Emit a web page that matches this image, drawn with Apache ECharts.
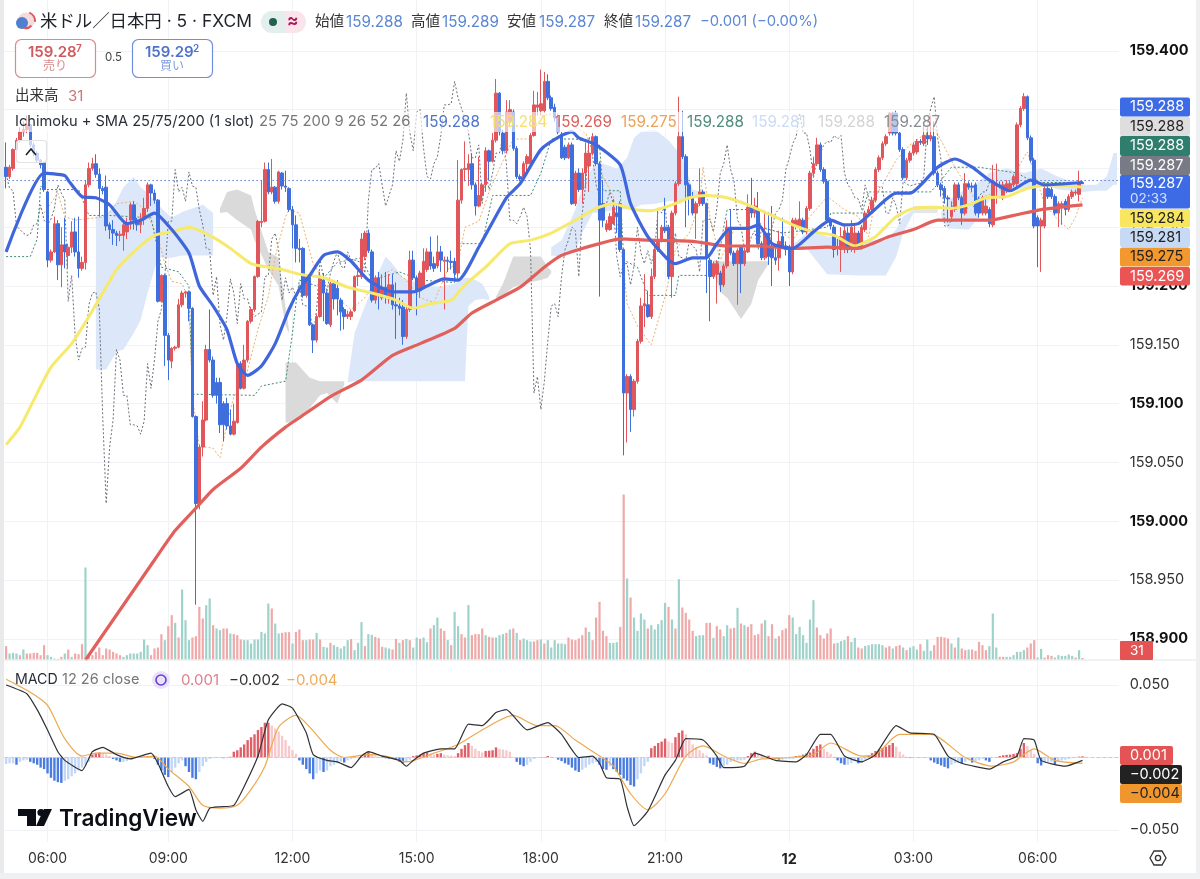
<!DOCTYPE html>
<html><head><meta charset="utf-8"><style>html,body{margin:0;padding:0;background:#eff0f2}#c{width:1200px;height:879px}</style>
<script src="https://cdn.jsdelivr.net/npm/echarts@6/dist/echarts.min.js"></script></head><body><div id="c"></div>
<script>
// prices are stored as thousandths above PRICE_BASE; index 0 is the first 5-minute bar
const PRICE_BASE = 159;
const opens = [
301,293,300,316,324,331,333,337,320,313,307,305,280,222,229,253,218,235,226,233,
246,229,215,220,286,300,304,295,283,284,252,248,245,243,243,246,256,269,256,252,
257,266,286,279,273,187,209,158,136,147,148,184,194,195,181,89,15,63,86,146,
137,118,118,100,100,81,74,84,134,113,137,170,180,208,254,255,299,280,284,272,
296,285,283,265,252,232,232,192,208,167,154,174,205,194,167,202,198,188,180,174,
174,179,208,208,225,245,229,188,207,190,199,189,201,184,183,182,157,180,222,207,
196,200,214,229,219,217,229,221,222,221,221,211,273,299,299,304,286,268,277,286,
315,306,324,364,330,315,340,348,317,293,293,304,304,328,352,349,349,374,360,352,
343,329,318,309,320,270,296,282,296,302,313,327,304,270,248,248,253,262,270,231,
109,123,95,119,153,183,184,174,208,231,239,250,250,208,262,287,327,310,286,276,
262,270,280,270,222,208,210,211,201,217,250,228,219,233,219,229,267,262,265,236,
224,245,232,224,224,242,234,233,212,251,251,256,246,266,296,304,320,299,289,256,
250,233,231,231,245,231,231,245,233,248,262,265,273,299,309,321,330,347,347,330,
316,292,307,313,314,323,321,328,325,327,296,286,283,275,259,265,286,275,262,287,
285,286,274,262,262,265,252,285,286,275,281,283,286,287,337,351,361,326,307,258,
251,251,283,282,276,262,268,272,265,276,279,278,288];
const closes = [
293,301,316,324,331,333,337,320,313,307,303,282,222,229,253,218,235,229,233,246,
229,215,220,286,300,304,295,283,281,251,248,245,243,244,252,253,269,256,252,257,
266,286,279,273,187,209,158,137,147,148,184,194,195,181,89,15,63,86,146,137,
107,107,82,82,81,74,85,134,113,137,170,180,208,255,255,299,280,284,272,297,
285,284,265,252,232,231,192,208,167,154,174,206,194,168,202,189,189,178,174,176,
178,208,209,240,245,230,188,207,194,199,191,201,184,183,181,157,180,222,207,195,
211,221,229,217,215,229,222,222,221,220,211,273,299,300,304,286,268,277,286,315,
306,324,364,331,315,348,350,317,293,291,304,310,328,354,354,355,374,360,351,343,
331,309,309,320,270,296,282,296,313,313,327,304,256,256,253,259,267,259,231,109,
123,95,119,153,183,185,174,208,231,239,250,247,208,262,287,327,310,286,276,262,
270,280,270,225,208,219,219,201,217,250,228,219,230,219,230,267,262,268,236,224,
245,225,224,222,238,234,231,212,256,256,257,246,266,296,304,320,299,289,256,251,
231,232,242,247,231,250,245,233,250,262,265,273,299,309,321,327,347,330,330,316,
292,307,313,320,323,322,328,325,328,296,286,282,275,274,265,286,275,262,287,284,
284,262,262,275,268,253,289,287,285,286,287,287,293,337,351,361,326,307,251,251,
256,283,276,276,262,270,270,265,276,280,280,288,287];
const highs = [
322,303,317,326,335,340,345,338,322,315,308,306,281,231,259,256,250,258,236,255,
258,259,225,290,305,309,312,300,285,294,254,256,247,247,255,258,271,272,258,262,
275,288,287,282,274,210,210,160,148,149,189,196,196,196,182,90,65,102,150,180,
140,122,122,102,105,95,100,136,136,150,171,182,209,256,290,305,305,308,285,298,
297,298,284,268,260,240,233,210,210,168,176,212,211,196,205,205,205,190,182,179,
180,209,213,245,247,248,231,209,212,210,212,210,210,203,190,188,182,230,230,209,
213,232,232,242,225,243,234,225,225,230,224,307,300,323,312,313,288,310,288,318,
316,330,376,365,333,358,358,350,319,295,306,312,330,366,365,384,382,380,362,355,
346,331,320,322,322,298,300,300,322,322,330,328,306,290,256,262,274,270,272,232,
125,125,121,155,190,210,196,215,240,266,252,275,252,264,289,361,349,312,288,280,
272,300,282,271,224,221,222,213,219,256,265,230,232,235,232,278,292,275,280,238,
264,263,268,232,247,258,238,235,258,258,272,258,268,298,310,326,322,301,291,258,
252,240,250,252,250,256,252,247,252,264,268,276,301,311,323,329,348,348,349,331,
318,309,315,322,325,325,338,335,345,340,298,288,285,277,272,288,288,277,296,289,
288,288,276,277,275,267,303,304,289,289,290,289,295,339,353,364,362,328,309,260,
258,285,285,284,278,272,272,274,278,282,282,298,289];
const lows = [
283,291,298,314,322,327,330,318,310,305,300,280,216,220,228,205,199,215,215,228,
225,207,213,214,284,298,292,259,278,247,240,235,234,238,230,240,248,248,247,245,
252,263,268,270,186,186,132,120,130,145,147,182,190,170,88,-71,10,55,85,135,
105,100,75,68,78,73,73,83,112,112,135,168,178,207,250,254,278,278,270,270,
282,280,263,232,220,220,190,190,166,143,152,173,170,167,165,180,175,162,163,172,
171,178,200,206,222,228,186,185,180,188,185,185,180,155,175,150,155,178,205,175,
190,198,212,214,212,215,212,180,212,214,205,205,270,289,285,282,260,267,272,280,
290,305,322,328,312,313,335,315,291,289,291,296,302,327,345,345,347,358,349,340,
329,308,307,308,269,268,280,270,283,280,311,302,191,250,246,247,252,245,229,56,
67,76,89,117,151,165,173,172,206,229,237,245,206,190,260,285,308,250,260,260,
240,268,268,194,170,206,185,195,199,215,226,217,184,194,217,228,258,258,234,222,
222,218,200,218,213,232,226,200,210,248,248,244,244,264,294,302,297,287,254,248,
224,226,212,228,228,229,228,231,231,246,260,263,271,297,307,319,328,328,328,314,
290,290,305,311,312,320,319,320,323,294,284,276,270,254,255,263,273,252,260,282,
280,260,258,260,260,250,250,270,283,273,279,281,284,285,335,349,324,305,249,216,
212,249,274,274,260,250,252,260,263,274,277,272,287];
const sma25 = [[0,229],[11,296],[17,294],[18,290],[22,276],[26,275],[30,269],[35,253],[39,256],[43,262],[48,248],[53,228],[56,200],[60,183],[64,163],[67,134],[70,124],[74,132],[78,151],[82,180],[85,197],[88,209],[92,226],[96,229],[100,221],[105,205],[112,195],[118,195],[122,200],[127,206],[131,205],[137,233],[145,275],[149,287],[155,316],[161,328],[164,331],[166,326],[171,320],[178,303],[181,270],[186,242],[192,222],[194,219],[199,224],[203,224],[206,236],[210,249],[215,249],[218,252],[222,236],[228,232],[234,246],[239,256],[243,252],[247,253],[251,263],[258,279],[262,279],[270,301],[275,308],[280,301],[285,290],[291,281],[297,290],[301,286],[312,288]];
const sma75 = [[0,65],[4,80],[8,103],[13,131],[19,151],[24,174],[28,194],[32,214],[37,229],[43,243],[48,246],[53,250],[59,243],[65,232],[71,219],[76,216],[80,214],[85,210],[92,207],[99,199],[106,194],[113,188],[118,181],[123,185],[129,188],[133,201],[139,216],[146,236],[152,239],[158,245],[165,256],[171,266],[176,270],[182,265],[187,264],[193,269],[198,275],[203,277],[209,275],[215,269],[222,260],[228,252],[234,246],[240,243],[246,234],[248,236],[252,242],[258,259],[263,266],[269,267],[274,266],[279,269],[284,275],[290,276],[296,283],[302,286],[312,284]];
const sma200 = [[23,-118],[43,-33],[49,-8],[55,11],[60,27],[68,45],[74,63],[81,80],[85,88],[94,106],[103,120],[112,141],[120,151],[130,164],[135,177],[142,188],[149,199],[156,216],[161,226],[166,231],[172,236],[178,240],[186,239],[199,238],[209,234],[218,234],[228,232],[238,233],[247,232],[251,236],[256,242],[263,248],[270,256],[280,256],[285,256],[292,260],[300,265],[312,269]];
const tenkan = [[11,262],[15,279],[17,259],[20,256],[29,259],[32,270],[37,272],[40,266],[44,242],[46,219],[48,204],[51,202],[53,188],[54,106],[56,64],[60,62],[62,54],[64,83],[66,106],[69,117],[73,163],[76,191],[78,225],[81,259],[82,265],[85,262],[89,219],[92,205],[96,190],[100,180],[104,190],[108,208],[112,214],[116,205],[120,190],[124,186],[128,214],[131,220],[133,250],[137,255],[140,280],[143,300],[147,325],[152,325],[155,345],[160,347],[165,335],[168,330],[172,299],[176,276],[179,214],[180,185],[183,166],[187,150],[191,191],[194,231],[198,245],[201,270],[202,301],[204,259],[207,222],[211,248],[218,250],[225,245],[228,239],[233,259],[238,276],[243,265],[247,259],[250,242],[252,276],[258,307],[262,320],[269,335],[275,301],[281,273],[290,284],[296,314],[301,270],[304,259],[308,248],[310,259],[312,275]];
const kijun = [[0,225],[7,225],[9,240],[10,285],[11,282],[21,282],[24,260],[30,260],[42,258],[45,216],[50,212],[53,200],[54,108],[72,107],[74,115],[81,119],[83,160],[84,185],[85,205],[90,200],[96,220],[103,224],[106,205],[114,212],[120,205],[130,203],[131,236],[138,236],[141,277],[152,277],[155,296],[158,325],[165,325],[172,320],[173,281],[178,281],[179,222],[183,216],[186,192],[194,192],[195,209],[203,209],[206,215],[208,250],[209,265],[217,265],[219,250],[225,245],[238,250],[239,262],[248,262],[250,280],[268,280],[271,290],[274,301],[282,301],[293,296],[298,288],[312,288]];
const cloudBlue1 = [[26,259,129],[29,260,129],[32,272,144],[34,284,146],[37,293,160],[39,284,171],[41,279,194],[44,269,224],[48,258,224],[51,263,226],[57,269,226],[60,262,226]];
const cloudGrey1 = [[62,266,262],[64,280,263],[67,282,256],[71,277,248],[72,265,239],[76,229,214],[79,224,200],[81,182,166],[82,163,160]];
const cloudGrey2 = [[81,135,84],[84,135,84],[88,122,96],[91,119,107],[93,119,109],[96,119,100],[98,119,116]];
const cloudBlue2 = [[99,119,118],[101,160,119],[104,183,119],[107,205,119],[110,225,119],[112,219,119],[115,207,119],[120,202,119],[125,199,119],[130,202,119],[133,207,119],[134,207,183],[136,205,188],[138,202,189],[140,191,188]];
const cloudGrey3 = [[142,191,190],[144,202,192],[147,225,199],[150,225,202],[155,225,205],[157,216,207],[158,213,211]];
const cloudBlue3 = [[158,233,226],[161,239,225],[165,265,229],[167,284,245],[170,301,262],[173,304,263],[177,300,265],[180,309,265],[182,326,266],[184,331,269],[188,333,270],[192,324,272],[196,310,273],[199,282,275],[203,279,275]];
const cloudGrey4 = [[205,222,213],[207,221,195],[209,221,190],[213,221,172],[216,221,185],[218,221,205],[221,221,219]];
const cloudBlue4 = [[228,235,232],[232,245,232],[235,245,221],[238,242,210],[247,239,209],[255,239,209],[258,248,225],[260,259,245],[263,265,262]];
const cloudGrey5 = [[263,268,262],[270,268,262]];
const cloudBlue5 = [[271,262,259],[273,273,249],[279,284,248],[281,287,255],[285,296,273],[290,300,279],[295,296,283],[300,300,286],[305,293,282],[312,286,280],[316,286,281],[319,293,281],[321,313,286],[322,313,286]];
const volumes = [
267,120,133,120,87,200,120,120,133,133,87,287,87,53,20,13,53,120,200,53,
120,107,307,1840,120,87,153,240,87,220,200,153,120,87,53,87,120,120,120,153,
400,287,87,220,240,507,387,667,887,733,440,1400,787,387,440,467,1053,820,1087,1220,
687,620,587,620,620,520,507,487,400,387,387,320,400,400,553,520,1120,1020,720,520,
533,547,547,320,553,600,387,387,400,400,533,400,253,240,333,287,253,220,267,387,
407,187,333,747,267,507,493,453,427,253,240,220,200,413,333,387,413,387,240,440,
413,440,347,620,687,840,620,573,387,287,953,667,507,440,1087,487,507,507,620,487,
453,440,440,487,507,533,600,620,533,387,420,387,360,360,387,400,320,387,240,387,
320,320,307,440,400,387,420,487,640,553,387,840,1153,573,467,333,333,347,653,3300,
1620,1240,840,573,920,800,620,687,600,707,787,1133,1053,800,620,1607,1040,933,800,573,
467,487,487,733,733,433,667,600,467,687,620,633,1033,720,687,653,707,487,507,720,
787,467,707,420,467,587,620,887,840,507,653,487,333,800,1187,640,487,420,520,620,
320,333,367,387,467,353,433,240,220,273,287,307,307,307,287,240,267,220,267,287,
240,187,240,267,200,307,173,400,173,287,453,453,440,420,320,240,440,220,187,200,
200,173,353,287,187,267,920,240,53,53,53,53,87,153,153,187,240,320,387,40,
213,40,87,73,40,87,73,73,100,73,40,187,31];
const volumeSide = "RTTTRTRRRR"+"RRTTTRRTRT"+"RRRTRRRRRR"+"RRRRTTTTTT"+"TTRRRRTRRT"+"RTTTRRRRTT"+"RTTRRTRRRT"+"TTTTTTTRTT"+"RRRTRRRTRR"+"TRTTRTTTTT"+"RTTTRTTRRR"+"TTRRTRTRTT"+"RTTRTTRRTR"+"TTRRTRRRRT"+"RRTTTRTRTR"+"TTTRRTRTTT"+"TTTRRRRRRT"+"RRRRRTTTRR"+"TRTTTTRTTT"+"TTRTRTRRRR"+"TTTRRTRRTT"+"RRTRTRRRRR"+"TRRTRRRRTT"+"TTTTTRRRRR"+"RTTTRTTRRT"+"TTTTTRRTRR"+"TRTTTRTTTR"+"RRRRTRTRRT"+"RRRRRTTTRR"+"TTTTTTRRRT"+"TRRRTTTTTT"+"RTR";
const macdLine = [[0,50],[6,44],[9,33],[12,19],[15,4],[17,-2],[22,-9],[25,4],[28,7],[32,2],[36,-1],[42,3],[44,-4],[47,-20],[49,-27],[53,-22],[55,-36],[57,-44],[59,-35],[62,-34],[66,-33],[69,-20],[73,1],[76,26],[80,37],[83,34],[87,17],[89,2],[93,-2],[96,-3],[100,-7],[103,1],[105,4],[109,1],[114,-2],[116,-6],[118,-2],[121,3],[126,6],[130,6],[134,23],[138,22],[142,31],[145,33],[151,19],[157,24],[161,16],[166,0],[170,1],[172,-4],[174,-14],[178,-15],[180,-34],[182,-47],[186,-37],[191,-12],[194,-2],[197,13],[202,12],[206,1],[208,-7],[214,-6],[217,3],[223,-2],[229,-3],[232,2],[236,16],[239,16],[243,1],[248,-3],[252,2],[258,22],[262,17],[269,16],[273,1],[277,-4],[285,-8],[289,-3],[293,1],[295,13],[298,12],[300,-2],[307,-6],[312,-2]];
const macdSignal = [[0,54],[7,45],[12,36],[17,13],[22,1],[26,3],[32,3],[38,0],[43,1],[47,-8],[53,-20],[57,-33],[62,-35],[67,-33],[71,-22],[75,-6],[79,21],[84,29],[88,21],[94,5],[98,0],[105,2],[110,1],[116,-3],[124,3],[131,9],[138,19],[147,29],[154,22],[159,22],[165,12],[172,1],[176,-6],[181,-25],[186,-36],[191,-25],[197,1],[202,8],[208,1],[214,-4],[219,-1],[227,0],[234,2],[239,10],[248,1],[252,2],[259,16],[268,16],[278,0],[286,-6],[292,-3],[298,6],[304,-2],[312,-4]];
const macdHist = [
-4.4,-4,-4,-5,-3,-2,-1.5,-3,-4,-5,-7,-8,-11,-14,-16,-17,-17.5,-16,-15,-13,
-11,-9,-7,-5,-3,2,3,3.5,3,2,1,-1,-2,-3,-3,-2.5,-1,-.5,-.2,.5,
.7,1,1,-1,-5,-9,-12,-13.5,-10,-7,-4,-2,-6,-10,-14,-15,-10,-6,-3,-1,
-.5,-.4,-.4,-.5,-.5,.5,4,5,7,9,12,14,16,19,21,24,24,22,20,18,
15,12,8,5,2.5,-2,-5,-8,-11,-15,-11,-9,-10,-9,-6,-5,-4,-3,-3.5,-2,
-1,-.5,-.5,.5,3,4,2,1,.5,.5,-.5,-.8,-1,-1.5,-3,-4,-3,-1.5,1,1.5,
2,3,3.5,2.5,2,2.5,3,2,1.5,1.3,1,3,6,8.5,10,8,6,4.5,3.5,4.5,
4.7,5,7,6,5.5,5,4,.5,-3,-5,-6,-5,-3,-1,-.5,-.3,.3,1,.5,.3,
-1.5,-2.5,-4,-5,-7,-9,-10,-8.5,-7,-5,-4,-3,-5,-8,-8.5,-6,-8,-10,-12,-14.5,
-16,-19,-20,-15,-11,-6,-3,6.4,8,10,11,13,11,10,14,17,18.6,16,12,9,
7,5,3,1.5,-4,-5,-6.5,-7.5,-6,-5,-3,-2.5,-2,-2,-1.5,1,3,4,2.5,1.5,
1,1.2,.5,-1,-1.5,-1.5,-1,-1,-1,1,1.3,2,2.8,3.5,6,8,9,6,4,2.5,
.5,-2,-4,-5,-5,-4,-2.5,-4,-3.5,-1.5,1,3,4.5,5.5,6.5,7.5,8.5,10,7.5,4,
2,.5,-.4,-.4,-.4,-.4,-.4,-.4,-2,-3.5,-4.5,-5.5,-6.5,-7.5,-5,-4,-3.5,-4,-3,-2,
-3.5,-2.5,-2,-1,-2,-3,-.3,-.2,1,1.5,1.8,2,2.5,3,6,10,8,5,2.5,-4,
-5.5,-3.5,-3,-3,-4.5,-3,-2,-1.5,-1,-.5,-.3,.6,.8];
const BAR_SLOTS = 323, LAST_PRICE = 287;
const tickIndex = [12,47,83,119,155,191,227,263,299];
const tickLabels = ['06:00','09:00','12:00','15:00','18:00','21:00','12','03:00','06:00'];
const headerOHLC = ['159.288','159.289','159.287','159.287'];
const pricePills = [
 ['159.288',97.5,19,'#3d6be6','#fff'],['159.288',117,19,'#dedede','#222'],['159.288',136,20,'#2f7d6c','#fff'],['159.287',156,19,'#787b86','#fff'],
 ['159.284',209,18.5,'#f7e65e','#222'],['159.281',228,19,'#c6d9f5','#222'],['159.275',247.5,19,'#f3982f','#222'],['159.269',267,18.5,'#ea5455','#fff']];

const p = v => +(PRICE_BASE + v/1000).toFixed(3);
const cats = Array.from({length:BAR_SLOTS},(_,i)=>{const m=5*60+5+i*5;const h=Math.floor(m/60)%24;return String(h).padStart(2,'0')+':'+String(m%60).padStart(2,'0')+'#'+i;});
const FONT = 'Inter, "Noto Sans CJK JP", "Noto Sans", sans-serif';
const RED='#e0565b', BLUE='#3f6fdc';
const lineOf=(d,color,width,extra)=>Object.assign({type:'line',xAxisIndex:1,yAxisIndex:1,data:d.map(a=>[a[0],p(a[1])]),showSymbol:false,silent:true,z:4,lineStyle:{color,width},animation:false},extra||{});
const dotted=(d,color,extra)=>lineOf(d,color,1,Object.assign({z:2,lineStyle:{color,width:1,type:[2,2]}},extra||{}));
const cloudSeries=(patch,fill)=>({type:'custom',xAxisIndex:1,yAxisIndex:1,z:1,silent:true,clip:false,animation:false,
 data:patch.map(d=>[d[0],p(d[1]),p(d[2])]),encode:{x:0,y:1},
 renderItem(params,api){ if(params.dataIndex!==0) return null;
  const up=patch.map(d=>api.coord([d[0],p(d[1])])); const dn=patch.slice().reverse().map(d=>api.coord([d[0],p(d[2])]));
  return {type:'polygon',shape:{points:up.concat(dn)},style:{fill}}; }});
const CB='#dce8f9', CG='#dadada';
const chikou = closes.slice(26).map((v,i)=>[i,v]);
const isTick=i=>tickIndex.includes(i);

// overlay helpers
const T=(x,y,s,fill,size,extra)=>({type:'text',x,y,style:Object.assign({text:s,fill,font:(extra&&extra.w||'400')+' '+(size||14)+'px '+FONT,textVerticalAlign:'middle',textAlign:(extra&&extra.a)||'left'})});
const R=(x,y,w,h,fill,r,stroke)=>({type:'rect',shape:{x,y,width:w,height:h,r:r||0},style:{fill:fill||'none',stroke:stroke||'none',lineWidth:stroke?1.2:0}});
const g=[];
// page frame
g.push(R(0,0,4,879,'#e9eaec'),R(1196,0,4,879,'#eff0f2'),R(0,873,1200,6,'#eff0f2'),
 {type:'line',shape:{x1:4,y1:660,x2:1196,y2:660},style:{stroke:'#e3e5ea',lineWidth:1}});
// legend veil + legend texts
g.push(R(14,112,932,20,'rgba(255,255,255,.62)'));
g.push(T(40,22,'米ドル／日本円 · 5 · FXCM','#1f2229',17.4));
g.push({type:'circle',shape:{cx:26,cy:21,r:8.5},style:{fill:'#f4dcdc'}},{type:'circle',shape:{cx:22,cy:23,r:6},style:{fill:'#4f7fd0'}},
 {type:'arc',shape:{cx:26,cy:21,r:9,startAngle:-1.2,endAngle:.1},style:{stroke:'#e0565b',fill:'none',lineWidth:2}},{type:'arc',shape:{cx:26,cy:21,r:7,startAngle:.7,endAngle:2},style:{stroke:'#e0565b',fill:'none',lineWidth:2}});
g.push(R(261,11,24,22,'#e3efec',[11,0,0,11]),R(285,11,21,22,'#fbe4ec',[0,11,11,0]),{type:'circle',shape:{cx:273,cy:22,r:4},style:{fill:'#22614f'}},T(287,21,'≈','#a51c56',17,{w:'700'}));
[['始値',315,346],['高値',411,442],['安値',507,539],['終値',604,635]].forEach((a,i)=>{g.push(T(a[1],22,a[0],'#333',14.5),T(a[2],22,headerOHLC[i],'#5b87d4',15.2));});
g.push(T(700,22,'−0.001 (−0.00%)','#5b87d4',14.8));
g.push(R(15.5,39.5,80,38,'#fff',6,'#d98a8c'),R(132.5,39.5,80,38,'#fff',6,'#6f8fdc'));
g.push(T(28,52,'159.28','#cf5a5e',15,{w:'600'}),T(76,49,'7','#cf5a5e',10,{w:'600'}),T(55,66,'売り','#d98a8c',12,{a:'center'}));
g.push(T(145,52,'159.29','#4e73c9',15,{w:'600'}),T(193,49,'2','#4e73c9',10,{w:'600'}),T(172,66,'買い','#7f9bdc',12,{a:'center'}));
g.push(T(105,58,'0.5','#444',11.5));
g.push(T(15,96,'出来高','#333',14.5),T(68,96,'31','#c9787a',15));
g.push(T(15,122,'Ichimoku + SMA 25/75/200 (1 slot)','#2a2e39',14.6),T(259,122,'25 75 200 9 26 52 26','#777',14.8));
[['159.288',423,'#4f74cc'],['159.284',490,'#f3e16a'],['159.269',555,'#d9625f'],['159.275',621,'#eaa355'],['159.288',687,'#4f8c7c'],['159.281',752,'#cbdcf4'],['159.288',818,'#d4d4d4'],['159.287',884,'#8b8d94']].forEach(a=>g.push(T(a[1],122,a[0],a[2],15.2)));
g.push(R(16.5,140.5,30,22,'rgba(255,255,255,.7)',3,'#e3e3e3'),{type:'polyline',shape:{points:[[26,155],[31,149],[36,155]]},style:{stroke:'#222',fill:'none',lineWidth:1.6}});
// right pills
pricePills.forEach(a=>g.push(R(1120,a[1],70,a[2],a[3],2),T(1130,a[1]+a[2]/2,a[0],a[4],14.5)));
g.push(R(1120,175,70,33.5,'#3d6be6',2),T(1130,184,'159.287','#fff',14.5),T(1130,199,'02:33','#d5e0fb',13.5));
g.push(R(1120,641,33,19,'#e45454',1),T(1130,650.5,'31','#fff',13.5));
g.push(R(1120,746,53,19,'#e45454',2),T(1130,756,'0.001','#fff',14.5),R(1120,765,62,19,'#222',2),T(1130,775,'−0.002','#fff',14.5),R(1120,784,62,19,'#f0962e',2),T(1130,794,'−0.004','#222',14.5));
// macd legend
g.push(T(15,680,'MACD','#2a2e39',14.2),T(62,680,'12 26 close','#777',14.5),{type:'circle',shape:{cx:161,cy:680,r:9},style:{fill:'#e9e2fb'}},{type:'circle',shape:{cx:161,cy:680,r:5},style:{stroke:'#6a3fd0',fill:'none',lineWidth:1.6}},T(181,680,'0.001','#df7f8a',15),T(229,680,'−0.002','#333',15),T(286,680,'−0.004','#eeab58',15));
// logo
g.push({type:'polygon',shape:{points:[[18,809],[36,809],[36,826],[27,826],[27,816],[18,816]]},style:{fill:'#0c0e15'}},{type:'circle',shape:{cx:41,cy:812.5,r:3.6},style:{fill:'#0c0e15'}},{type:'polygon',shape:{points:[[44,809],[52,809],[44,826],[36,826]]},style:{fill:'#0c0e15'}});
g.push(T(59,819,'TradingView','#0c0e15',22.6,{w:'600'}));
// settings glyph
g.push({type:'polygon',shape:{points:[[1150,858],[1154,851],[1162,851],[1166,858],[1162,865],[1154,865]]},style:{stroke:'#333',fill:'none',lineWidth:1.3}},{type:'circle',shape:{cx:1158,cy:858,r:2.6},style:{stroke:'#333',fill:'none',lineWidth:1.3}});

const catAxis=(gridIndex,show)=>({type:'category',gridIndex,data:cats,show:!!show,boundaryGap:true,axisLine:{show:false},axisTick:{show:false},axisLabel:{show:false},splitLine:{show:false}});
const option={
 backgroundColor:'#fff',animation:false,textStyle:{fontFamily:FONT},
 grid:[{left:6.1,width:1110.9,top:0,height:842},{left:4.4,width:1114.35,top:50.8,height:646.8},{left:4.4,width:1114.35,top:460,height:199.5},{left:4.4,width:1114.35,top:685,height:145}],
 xAxis:[
  {type:'category',gridIndex:0,data:cats,boundaryGap:false,axisLine:{show:false},axisTick:{show:false},
   splitLine:{show:true,interval:i=>isTick(i),lineStyle:{color:'#f0f2f6',width:1}},
   axisLabel:{show:true,interval:i=>isTick(i),margin:10,fontSize:14,color:'#333',fontFamily:FONT,
     formatter:(v,i)=>{const k=tickIndex.indexOf(i);if(k<0)return '';return tickLabels[k]==='12'?'{b|12}':tickLabels[k];},rich:{b:{fontWeight:700,fontSize:14.5,color:'#222',fontFamily:FONT}}}},
  catAxis(1),catAxis(2),catAxis(3)],
 yAxis:[
  {type:'value',gridIndex:0,show:false,min:0,max:1,splitLine:{show:false}},
  {type:'value',gridIndex:1,position:'right',min:158.85,max:159.4,interval:0.05,scale:true,axisLine:{show:false},axisTick:{show:false},
   splitLine:{show:true,showMinLine:false,lineStyle:{color:'#f0f2f6',width:1}},
   axisLabel:{show:true,showMinLabel:false,margin:11,fontFamily:FONT,fontSize:14.5,color:'#333',hideOverlap:false,
    formatter:v=>{const s=v.toFixed(3);return Math.round(v*1000)%100===0?'{b|'+s+'}':s;},rich:{b:{fontWeight:700,fontSize:14.5,color:'#111',fontFamily:FONT}}}},
  {type:'value',gridIndex:2,show:false,min:0,max:3990,splitLine:{show:false}},
  {type:'value',gridIndex:3,position:'right',min:-50,max:50,interval:50,axisLine:{show:false},axisTick:{show:false},
   splitLine:{show:true,lineStyle:{color:'#f0f2f6',width:1}},
   axisLabel:{show:true,margin:11,fontFamily:FONT,fontSize:14.5,color:'#333',formatter:v=>v===0?'':(v<0?'−':'')+(Math.abs(v)/1000).toFixed(3)}}
 ],
 graphic:{elements:g.map(e=>Object.assign(e,{z:60,silent:true}))},
 series:[
  {type:'bar',xAxisIndex:2,yAxisIndex:2,z:1,silent:true,barWidth:2.2,data:volumes.map((v,i)=>({value:v,itemStyle:{color:volumeSide[i]==='T'?'#9fd2ca':'#efa9a9'}}))},
  cloudSeries(cloudBlue1,CB),cloudSeries(cloudBlue2,CB),cloudSeries(cloudBlue3,CB),cloudSeries(cloudBlue4,CB),cloudSeries(cloudBlue5,CB),
  cloudSeries(cloudGrey1,CG),cloudSeries(cloudGrey2,CG),cloudSeries(cloudGrey3,CG),cloudSeries(cloudGrey4,CG),cloudSeries(cloudGrey5,'#e6e6e6'),
  dotted(chikou,'#6e7078'),
  dotted(tenkan,'#eeb06a'),
  dotted(kijun,'#3f8a78'),
  {type:'candlestick',xAxisIndex:1,yAxisIndex:1,z:3,silent:true,barWidth:3,
   data:opens.map((o,i)=>[p(o),p(closes[i]),p(lows[i]),p(highs[i])]),
   itemStyle:{color:RED,color0:BLUE,borderColor:RED,borderColor0:BLUE,borderWidth:1},
   markLine:{silent:true,symbol:'none',label:{show:false},lineStyle:{color:'#5b7fd8',width:1,type:[1.5,2.5]},data:[{yAxis:p(LAST_PRICE)}]}},
  lineOf(sma75,'#f6e96b',3,{smooth:.2,z:4}),
  lineOf(sma200,'#e2605c',3.2,{smooth:.2,z:5}),
  lineOf(sma25,'#3f66dd',3.2,{smooth:.2,z:6}),
  {type:'bar',xAxisIndex:3,yAxisIndex:3,z:2,silent:true,barWidth:2.4,
   data:macdHist.map((v,i)=>{const pv=i?macdHist[i-1]:v;const c=v>=0?(v>=pv?'#df5f68':'#f6c9cc'):(v<pv?'#4a7ce0':'#c2d6f6');return {value:v,itemStyle:{color:c}};})},
  {type:'line',xAxisIndex:3,yAxisIndex:3,z:4,silent:true,clip:false,smooth:.25,showSymbol:false,data:macdSignal,lineStyle:{color:'#eda94e',width:1.2}},
  {type:'line',xAxisIndex:3,yAxisIndex:3,z:5,silent:true,clip:false,smooth:.15,showSymbol:false,data:macdLine,lineStyle:{color:'#2f3136',width:1.2},
   markLine:{silent:true,symbol:'none',label:{show:false},lineStyle:{color:'#c9ccd3',width:1,type:'dashed'},data:[{yAxis:0}]}}
 ]};
const chart=echarts.init(document.getElementById('c'),null,{renderer:'canvas'});
chart.setOption(option);
</script></body></html>
